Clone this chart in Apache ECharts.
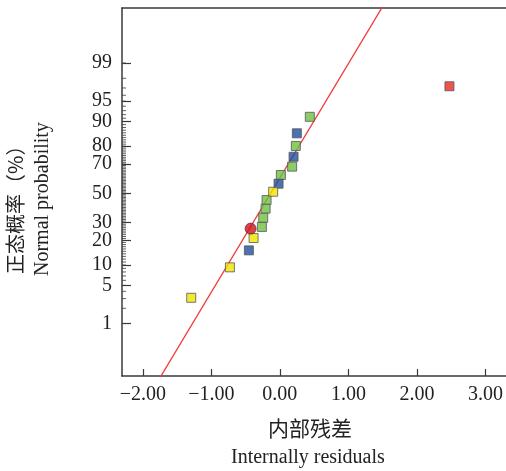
<!DOCTYPE html>
<html>
<head>
<meta charset="utf-8">
<script src="https://cdn.jsdelivr.net/npm/echarts@6/dist/echarts.min.js"></script>
<style>
  html, body { margin: 0; padding: 0; background: #fff; }
  #chart { width: 506px; height: 471px; }
</style>
</head>
<body>
<div id="chart"></div>
<script type="text/javascript">
    // residuals (x) and normal probability in % (y), grouped by point colour
    var greenRes = [0.437, 0.233, 0.179, 0.015, -0.194, -0.208, -0.243, -0.262];
    var greenProb = [91.4, 80.1, 68.3, 62.8, 45.2, 39.2, 33.1, 27.4];
    var blueRes = [0.248, 0.200, -0.019, -0.452];
    var blueProb = [85.8, 74.3, 56.8, 15.4];
    var yellowRes = [-0.098, -0.383, -0.729, -1.293];
    var yellowProb = [51.1, 21.2, 9.3, 3.1];
    var redRes = [2.474];
    var redProb = [97.2];
    var circleRes = [-0.427];
    var circleProb = [26.4];

    // fitted normal line
    var lineMean = -0.135;
    var lineSd = 0.49;

    // axis ticks
    var xTicks = [-2, -1, 0, 1, 2, 3];
    var yTickLabels = [1, 5, 10, 20, 30, 50, 70, 80, 90, 95, 99];
    var yMinorTicks = [];
    for (var k = 1; k <= 99; k++) yMinorTicks.push(k);

    // 百分比 -> z 值 (Acklam inverse normal)
    function probit(p) {
        var a = [-3.969683028665376e+01, 2.209460984245205e+02, -2.759285104469687e+02, 1.383577518672690e+02, -3.066479806614716e+01, 2.506628277459239e+00];
        var b = [-5.447609879822406e+01, 1.615858368580409e+02, -1.556989798598866e+02, 6.680131188771972e+01, -1.328068155288572e+01];
        var c = [-7.784894002430293e-03, -3.223964580411365e-01, -2.400758277161838e+00, -2.549732539343734e+00, 4.374664141464968e+00, 2.938163982698783e+00];
        var d = [7.784695709041462e-03, 3.224671290700398e-01, 2.445134137142996e+00, 3.754408661907416e+00];
        var pl = 0.02425, q, r;
        if (p < pl) {
            q = Math.sqrt(-2 * Math.log(p));
            return (((((c[0]*q+c[1])*q+c[2])*q+c[3])*q+c[4])*q+c[5]) / ((((d[0]*q+d[1])*q+d[2])*q+d[3])*q+1);
        } else if (p <= 1 - pl) {
            q = p - 0.5; r = q * q;
            return (((((a[0]*r+a[1])*r+a[2])*r+a[3])*r+a[4])*r+a[5])*q / (((((b[0]*r+b[1])*r+b[2])*r+b[3])*r+b[4])*r+1);
        } else {
            q = Math.sqrt(-2 * Math.log(1 - p));
            return -(((((c[0]*q+c[1])*q+c[2])*q+c[3])*q+c[4])*q+c[5]) / ((((d[0]*q+d[1])*q+d[2])*q+d[3])*q+1);
        }
    }

    function pts(xs, ps) {
        var out = [];
        for (var i = 0; i < xs.length; i++) out.push([xs[i], probit(ps[i] / 100)]);
        return out;
    }

    var zMin = -3.263, zMax = 3.309;
    var xMin = -2.303, xMax = 3.294;
    var axisColor = '#3a3a3a';
    var serif = '"Liberation Serif", "Times New Roman", serif';

    var majorZ = yTickLabels.map(function (p) { return probit(p / 100); });
    // 次刻度：左轴上的短横线
    var minorPts = yMinorTicks.map(function (p) { return [xMin, probit(p / 100)]; });

    var myChart = echarts.init(document.getElementById('chart'));

    function sq(name, data, color) {
        return {
            name: name, type: 'scatter', data: data, symbol: 'rect', symbolSize: 9,
            itemStyle: { color: color, borderColor: '#555560', borderWidth: 1 },
            z: 5
        };
    }

    var option = {
        animation: false,
        grid: { left: 122, top: 8, right: 0, bottom: 95 },
        xAxis: [
            {
                type: 'value', min: xMin, max: xMax, position: 'bottom',
                axisLine: { show: true, onZero: false, lineStyle: { color: axisColor, width: 1.5 } },
                axisTick: { show: true, inside: true, length: 7, customValues: xTicks, lineStyle: { color: axisColor, width: 1.2 } },
                axisLabel: {
                    customValues: xTicks, margin: 9, fontFamily: serif, fontSize: 20, color: '#222',
                    formatter: function (v) { return (v < 0 ? '\u2212' : '') + Math.abs(v).toFixed(2); }
                },
                splitLine: { show: false }
            },
            {
                type: 'value', min: xMin, max: xMax, position: 'top',
                axisLine: { show: true, onZero: false, lineStyle: { color: axisColor, width: 1.5 } },
                axisTick: { show: false }, axisLabel: { show: false }, splitLine: { show: false }
            }
        ],
        yAxis: [
            {
                type: 'value', min: zMin, max: zMax, position: 'left',
                axisLine: { show: true, onZero: false, lineStyle: { color: axisColor, width: 1.5 } },
                axisTick: { show: true, inside: true, length: 9, customValues: majorZ, lineStyle: { color: axisColor, width: 1.2 } },
                axisLabel: {
                    customValues: majorZ, margin: 10, fontFamily: serif, fontSize: 20, color: '#222',
                    formatter: function (v) {
                        var best = 0, bd = 1e9;
                        for (var i = 0; i < majorZ.length; i++) {
                            var dd = Math.abs(majorZ[i] - v);
                            if (dd < bd) { bd = dd; best = i; }
                        }
                        return String(yTickLabels[best]);
                    }
                },
                splitLine: { show: false }
            }
        ],
        series: [
            {
                name: 'minorTicks', type: 'scatter', data: minorPts, symbol: 'rect',
                symbolSize: [4, 1], symbolOffset: [2, 0], silent: true, clip: false, z: 2,
                itemStyle: { color: axisColor }
            },
            {
                name: 'fit', type: 'line', symbol: 'none', silent: true, z: 3,
                data: [[lineMean + lineSd * (zMin - 0.5), zMin - 0.5], [lineMean + lineSd * (zMax + 0.5), zMax + 0.5]],
                lineStyle: { color: '#f03c3c', width: 1.3 }
            },
            sq('green', pts(greenRes, greenProb), '#6fc13f'),
            sq('blue', pts(blueRes, blueProb), '#1f4f9e'),
            sq('yellow', pts(yellowRes, yellowProb), '#f0e400'),
            sq('red', pts(redRes, redProb), '#e8291e'),
            {
                name: 'circle', type: 'scatter', data: pts(circleRes, circleProb), symbol: 'circle', symbolSize: 11,
                itemStyle: { color: '#c8141c', borderColor: '#7a2a2a', borderWidth: 1 }, z: 6
            }
        ],
        graphic: [
            { type: 'text', left: 268, top: 418, style: { text: '内部残差', font: '21px "Noto Sans CJK SC"', fill: '#222' } },
            { type: 'text', left: 231, top: 448, style: { text: 'Internally residuals', font: '20px ' + serif, fill: '#222' } },
            { type: 'text', x: 5, y: 274, rotation: Math.PI / 2, style: { text: '正态概率（%）', font: '20px "Noto Sans CJK SC"', fill: '#222' } },
            { type: 'text', x: 33, y: 276, rotation: Math.PI / 2, style: { text: 'Normal probability', font: '20px ' + serif, fill: '#222' } }
        ]
    };

    myChart.setOption(option);
</script>
</body>
</html>
